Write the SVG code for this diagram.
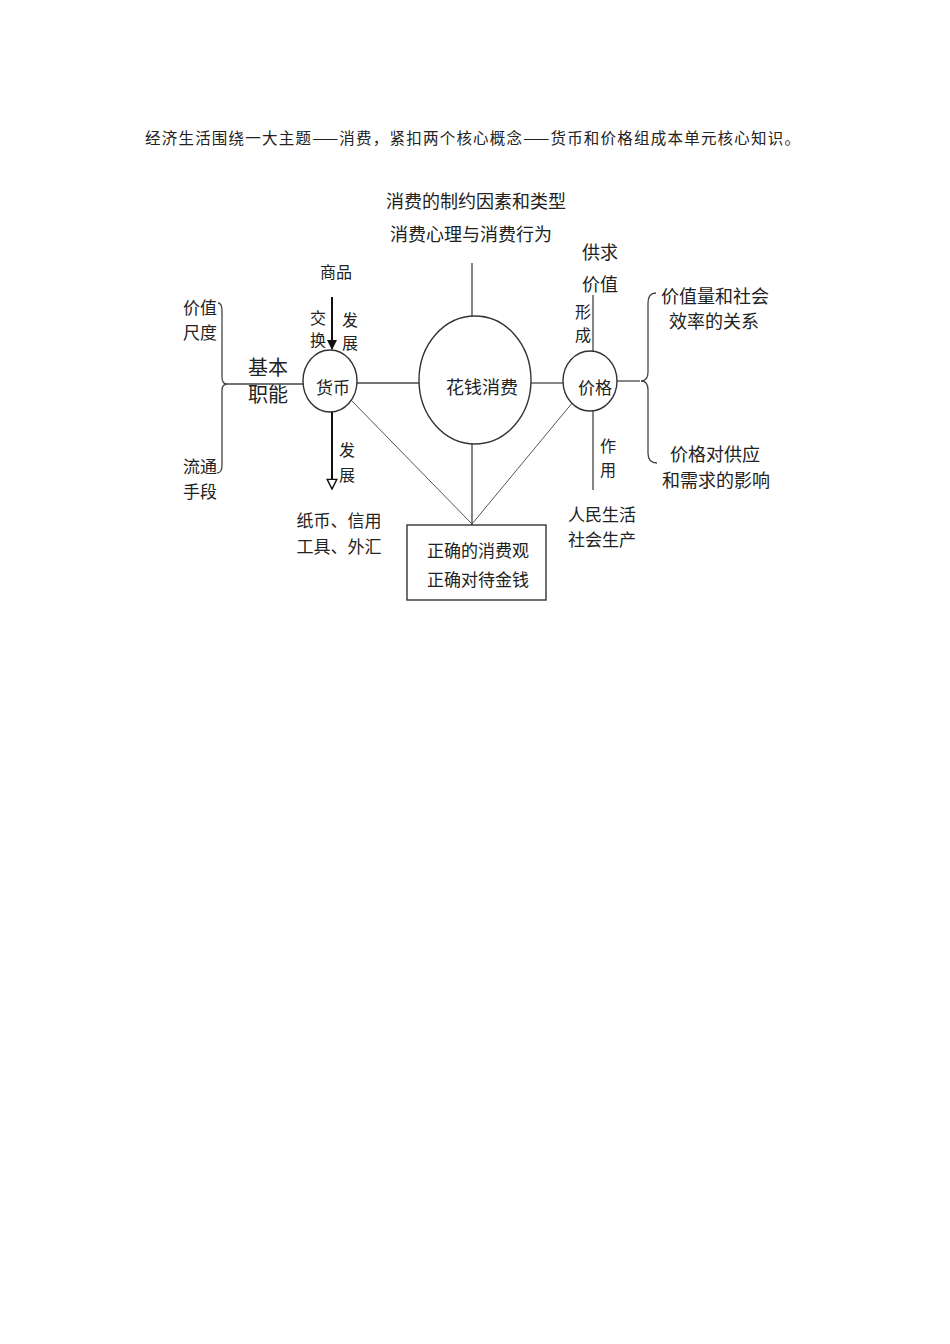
<svg xmlns="http://www.w3.org/2000/svg" width="950" height="1344" viewBox="0 0 950 1344">
<style>
text{font-family:"Noto Sans CJK SC","Noto Sans CJK JP",sans-serif;fill:#222;}
.t18{font-size:18px;}
.t17{font-size:17px;}
.t16{font-size:16px;}
.t20{font-size:20px;}
.ln{stroke:#444;stroke-width:1.3;fill:none;}
.thin{stroke:#555;stroke-width:1;fill:none;}
.nd{fill:#fff;stroke:#333;stroke-width:1.4;}
</style>
<defs>
<marker id="solid" viewBox="0 0 10 10" refX="9" refY="5" markerWidth="5" markerHeight="5" orient="auto"><path d="M0,0 L10,5 L0,10 z" fill="#111"/></marker>
<marker id="open" viewBox="0 0 10 10" refX="9" refY="5" markerWidth="6" markerHeight="6" orient="auto"><path d="M1,1 L9,5 L1,9 z" fill="#fff" stroke="#111" stroke-width="1.2"/></marker>
</defs>
<rect width="950" height="1344" fill="#fff"/>
<text x="145" y="144" style="font-size:15.5px" textLength="655" lengthAdjust="spacing">经济生活围绕一大主题——消费，紧扣两个核心概念——货币和价格组成本单元核心知识。</text>

<g id="connectors">
<line class="ln" x1="472" y1="263" x2="472" y2="316"/>
<line class="ln" x1="357" y1="383" x2="419" y2="383"/>
<line class="ln" x1="531" y1="383" x2="563" y2="383"/>
<line class="ln" x1="617" y1="381" x2="640" y2="381"/>
<line class="ln" x1="226" y1="384" x2="303" y2="384"/>
<line class="ln" x1="593" y1="295" x2="593" y2="351"/>
<line class="ln" x1="593" y1="410" x2="593" y2="490"/>
<line class="thin" x1="351" y1="400" x2="472" y2="524"/>
<line class="thin" x1="573" y1="402" x2="472" y2="524"/>
<line class="ln" x1="472" y1="444" x2="472" y2="525"/>
<line stroke="#111" stroke-width="2" x1="332" y1="297" x2="332" y2="349" marker-end="url(#solid)"/>
<line stroke="#111" stroke-width="2" x1="332" y1="411" x2="332" y2="489" marker-end="url(#open)"/>
<path class="ln" d="M218,303 Q222,303 222,311 L222,377 Q222,384 227,384 Q222,384 222,391 L222,465 Q222,473 217,473"/>
<path class="ln" d="M656,293 Q648,293 648,303 L648,372 Q648,381 641,381 Q648,381 648,390 L648,453 Q648,463 657,463"/>
</g>

<g id="node-consume">
<ellipse class="nd" cx="475" cy="380" rx="56" ry="64"/>
<text class="t18" x="482" y="394" text-anchor="middle">花钱消费</text>
</g>
<g id="node-money">
<ellipse class="nd" cx="330" cy="381" rx="27" ry="31"/>
<text class="t17" x="333" y="394" text-anchor="middle">货币</text>
</g>
<g id="node-price">
<ellipse class="nd" cx="590" cy="381" rx="27" ry="30"/>
<text class="t17" x="595" y="394" text-anchor="middle">价格</text>
</g>
<g id="node-box">
<rect class="nd" x="407" y="525" width="139" height="75"/>
<text class="t17" x="478" y="557" text-anchor="middle">正确的消费观</text>
<text class="t17" x="478" y="586" text-anchor="middle">正确对待金钱</text>
</g>
<g id="label-top">
<text class="t18" x="476" y="208" text-anchor="middle">消费的制约因素和类型</text>
<text class="t18" x="471" y="241" text-anchor="middle">消费心理与消费行为</text>
</g>
<g id="label-goods"><text class="t16" x="336" y="278" text-anchor="middle">商品</text></g>
<g id="label-exchange">
<text class="t16" x="318" y="324" text-anchor="middle">交</text>
<text class="t16" x="318" y="346" text-anchor="middle">换</text>
</g>
<g id="label-dev1">
<text class="t16" x="350" y="326" text-anchor="middle">发</text>
<text class="t16" x="350" y="349" text-anchor="middle">展</text>
</g>
<g id="label-measure">
<text class="t17" x="200" y="314" text-anchor="middle">价值</text>
<text class="t17" x="200" y="339" text-anchor="middle">尺度</text>
</g>
<g id="label-basic">
<text class="t20" x="268" y="375" text-anchor="middle">基本</text>
<text class="t20" x="268" y="402" text-anchor="middle">职能</text>
</g>
<g id="label-circ">
<text class="t17" x="200" y="473" text-anchor="middle">流通</text>
<text class="t17" x="200" y="498" text-anchor="middle">手段</text>
</g>
<g id="label-dev2">
<text class="t16" x="347" y="456" text-anchor="middle">发</text>
<text class="t16" x="347" y="481" text-anchor="middle">展</text>
</g>
<g id="label-paper">
<text class="t17" x="339" y="527" text-anchor="middle">纸币、信用</text>
<text class="t17" x="339" y="553" text-anchor="middle">工具、外汇</text>
</g>
<g id="label-supply">
<text class="t18" x="600" y="259" text-anchor="middle">供求</text>
<text class="t18" x="600" y="291" text-anchor="middle">价值</text>
</g>
<g id="label-form">
<text class="t16" x="583" y="318" text-anchor="middle">形</text>
<text class="t16" x="583" y="341" text-anchor="middle">成</text>
</g>
<g id="label-effect">
<text class="t16" x="608" y="452" text-anchor="middle">作</text>
<text class="t16" x="608" y="476" text-anchor="middle">用</text>
</g>
<g id="label-life">
<text class="t17" x="602" y="521" text-anchor="middle">人民生活</text>
<text class="t17" x="602" y="546" text-anchor="middle">社会生产</text>
</g>
<g id="label-value">
<text class="t18" x="715" y="303" text-anchor="middle">价值量和社会</text>
<text class="t18" x="714" y="328" text-anchor="middle">效率的关系</text>
</g>
<g id="label-influence">
<text class="t18" x="715" y="461" text-anchor="middle">价格对供应</text>
<text class="t18" x="716" y="487" text-anchor="middle">和需求的影响</text>
</g>
</svg>
